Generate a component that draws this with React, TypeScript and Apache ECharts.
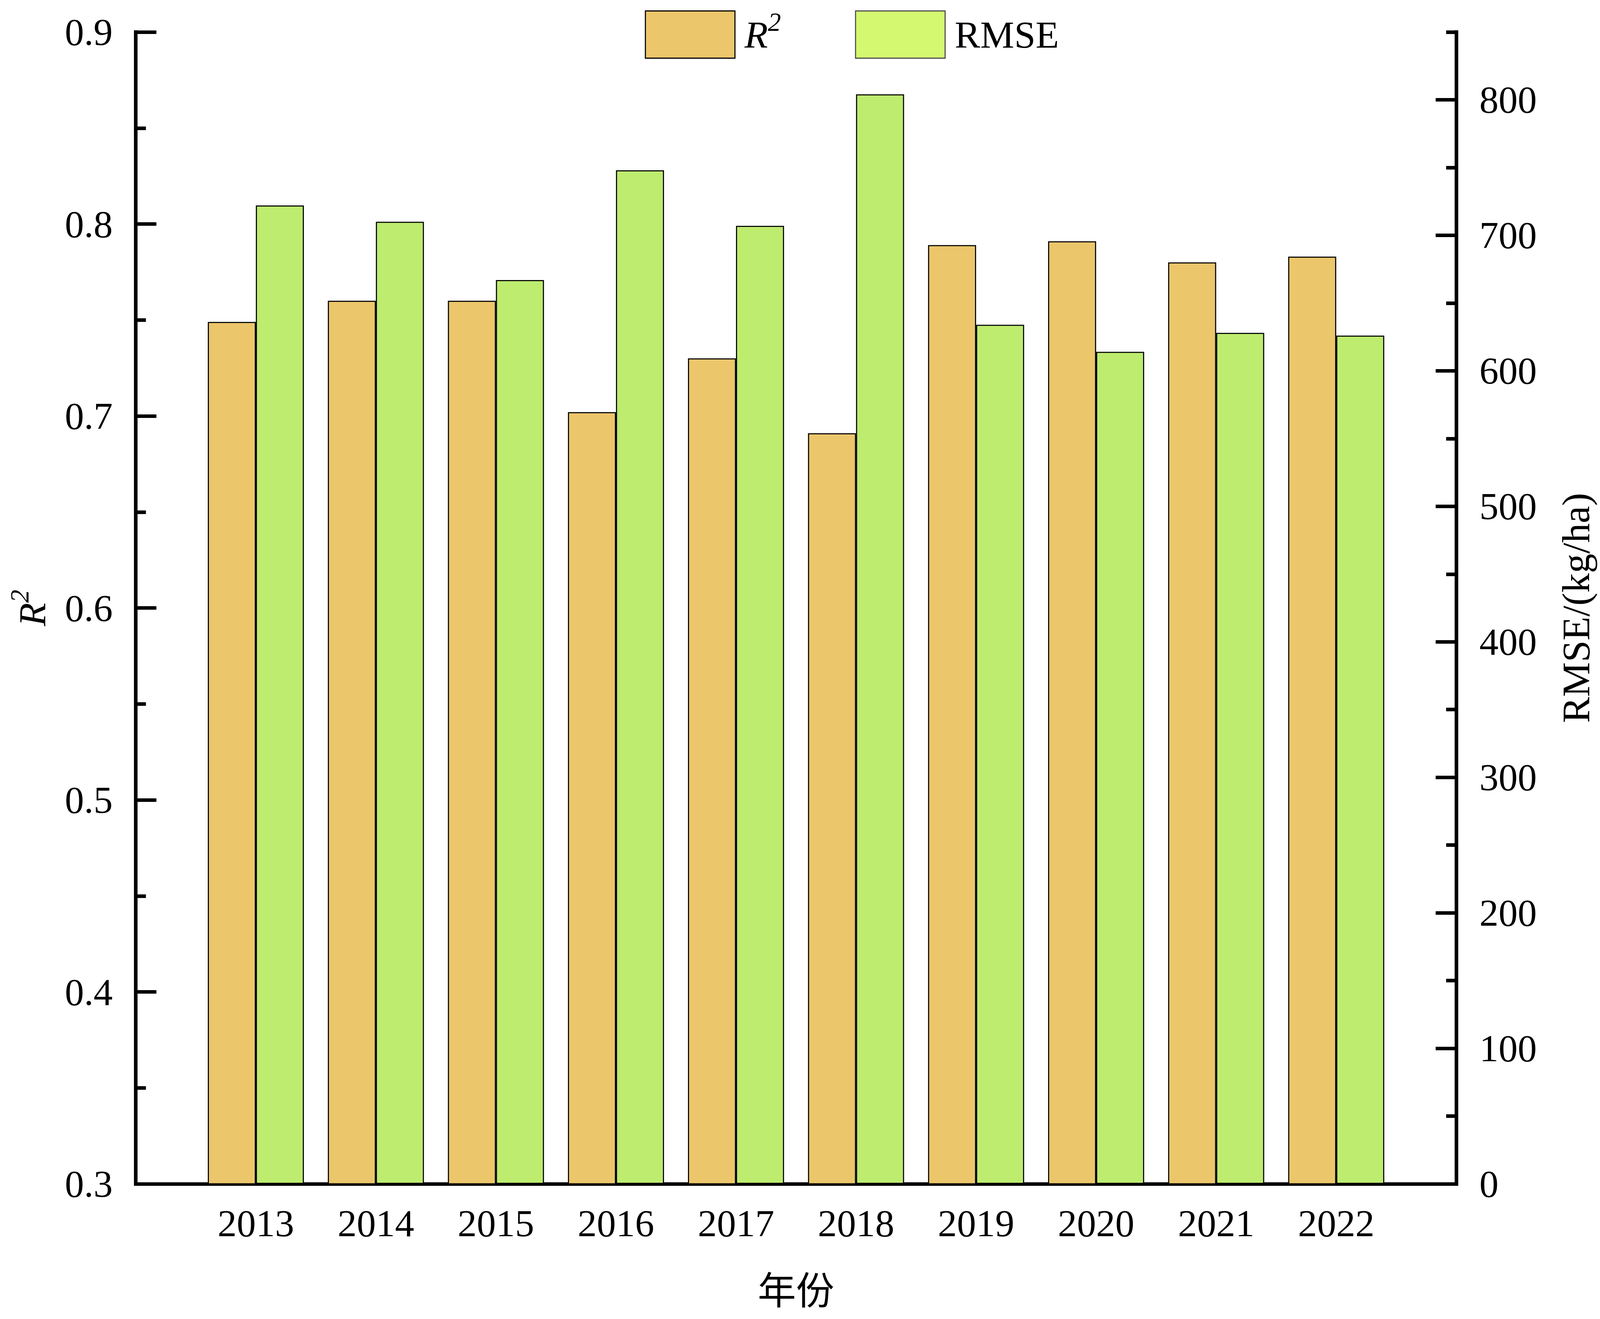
import { useEffect, useRef } from 'react';
import * as echarts from 'echarts';

// years on the x axis
const YEARS = ['2013', '2014', '2015', '2016', '2017', '2018', '2019', '2020', '2021', '2022'];
// R² per year (left axis)
const R2_VALUES = [0.749, 0.760, 0.760, 0.702, 0.730, 0.691, 0.789, 0.791, 0.780, 0.783];
// RMSE per year, kg/ha (right axis)
const RMSE_VALUES = [722, 710, 667, 748, 707, 804, 634, 614, 628, 626];
// right axis ticks
const RMSE_MAJOR_TICKS = [0, 100, 200, 300, 400, 500, 600, 700, 800];
const RMSE_MINOR_TICKS = [50, 150, 250, 350, 450, 550, 650, 750, 850];

const FONT = '"Liberation Serif", "Times New Roman", serif';
const ORANGE = '#ECC66B';
const GREEN = '#BEEC6F';
const LEGEND_GREEN = '#D4F870';

// the reference was drawn on a 4430 x 3377 canvas; everything is scaled from it
const REF_W = 4430;
const REF_H = 3377;

export default function App() {
  const chartRef = useRef<HTMLDivElement>(null);

  useEffect(() => {
    document.body.style.margin = '0';
    document.body.style.overflow = 'hidden';
    const el = chartRef.current;
    if (!el) return;
    const W = el.clientWidth || REF_W;
    const H = el.clientHeight || REF_H;
    const sx = W / REF_W;
    const sy = H / REF_H;
    const s = Math.min(sx, sy);
    const fs = (v: number) => Math.round(v * s);

    const chart = echarts.init(el, undefined, { renderer: 'svg' });

    const rich = {
      i: { fontFamily: FONT, fontSize: fs(106), fontStyle: 'italic' as const, color: '#000' },
      s: { fontFamily: FONT, fontSize: fs(72), fontStyle: 'italic' as const, color: '#000', padding: [0, 0, fs(71), 0] },
      t: { fontFamily: FONT, fontSize: fs(106), color: '#000' },
      p: { width: 21 * sx, fontSize: fs(106) },
    };

    const axisData = ['', ...YEARS, ' '];
    const pad = (vals: number[]) => [null, ...vals, null];
    const black = { color: '#000', width: 10 * s };
    const labelStyle = { fontFamily: FONT, fontSize: fs(106), color: '#000' };

    chart.setOption({
      animation: false,
      backgroundColor: '#fff',
      grid: { left: 376 * sx, right: 398 * sx, top: 82 * sy, bottom: 346 * sy, containLabel: false },
      legend: {
        left: 1780 * sx,
        top: 17 * sy,
        itemWidth: 248 * sx,
        itemHeight: 121 * sy,
        itemGap: 205 * sx,
        icon: 'rect',
        selectedMode: false,
        data: [
          { name: 'R²', itemStyle: { color: ORANGE, borderColor: '#000', borderWidth: 3 * s } },
          { name: 'RMSE', itemStyle: { color: LEGEND_GREEN, borderColor: '#4D4D4D', borderWidth: 3 * s } },
        ],
        formatter: (name: string) => (name === 'R²' ? '{p| }{i|R}{s|2}' : '{p| }{t|RMSE}'),
        textStyle: { ...labelStyle, rich },
      },
      xAxis: {
        type: 'category',
        data: axisData,
        boundaryGap: false,
        axisLine: { show: true, lineStyle: { ...black, cap: 'square' } },
        axisTick: { show: false },
        axisLabel: { interval: 0, margin: 52 * sy, ...labelStyle },
        splitLine: { show: false },
        name: '年份',
        nameLocation: 'middle',
        nameGap: 216 * sy,
        nameTextStyle: { fontFamily: '"Noto Sans CJK SC", sans-serif', fontSize: fs(106), color: '#000' },
      },
      yAxis: [
        {
          type: 'value',
          position: 'left',
          min: 0.3,
          max: 0.9,
          interval: 0.1,
          axisLine: { show: true, lineStyle: { ...black, cap: 'square' } },
          axisTick: { show: true, inside: true, length: 57 * sx, lineStyle: black },
          minorTick: { show: true, splitNumber: 2, length: 28 * sx, lineStyle: black },
          axisLabel: { margin: 64 * sx, ...labelStyle },
          splitLine: { show: false },
          minorSplitLine: { show: false },
          name: '{i|R}{s|2}',
          nameLocation: 'middle',
          nameRotate: 90,
          nameGap: 214 * sx,
          nameTextStyle: { ...labelStyle, rich },
        },
        {
          type: 'value',
          position: 'right',
          min: 0,
          max: 850,
          interval: 100,
          axisLine: { show: true, lineStyle: { ...black, cap: 'square' } },
          axisTick: { show: true, inside: true, length: 57 * sx, lineStyle: black, customValues: RMSE_MAJOR_TICKS },
          axisLabel: { margin: 64 * sx, ...labelStyle, customValues: RMSE_MAJOR_TICKS },
          splitLine: { show: false },
          name: 'RMSE/(kg/ha)',
          nameLocation: 'middle',
          nameRotate: 90,
          nameGap: 277 * sx,
          nameTextStyle: { ...labelStyle, fontSize: fs(108) },
        },
        {
          type: 'value',
          position: 'right',
          min: 0,
          max: 850,
          interval: 50,
          axisLine: { show: false },
          axisTick: { show: true, inside: true, length: 28 * sx, lineStyle: black, customValues: RMSE_MINOR_TICKS },
          axisLabel: { show: false },
          splitLine: { show: false },
        },
      ],
      series: [
        {
          name: 'R²',
          type: 'bar',
          yAxisIndex: 0,
          data: pad(R2_VALUES),
          barWidth: 133 * sx,
          barGap: '0%',
          itemStyle: { color: ORANGE, borderColor: '#000', borderWidth: 3 * s },
        },
        {
          name: 'RMSE',
          type: 'bar',
          yAxisIndex: 1,
          data: pad(RMSE_VALUES),
          barWidth: 133 * sx,
          barGap: '0%',
          itemStyle: { color: GREEN, borderColor: '#000', borderWidth: 3 * s },
        },
      ],
    });

    return () => chart.dispose();
  }, []);

  return <div ref={chartRef} style={{ width: '100vw', height: '100vh' }} />;
}
